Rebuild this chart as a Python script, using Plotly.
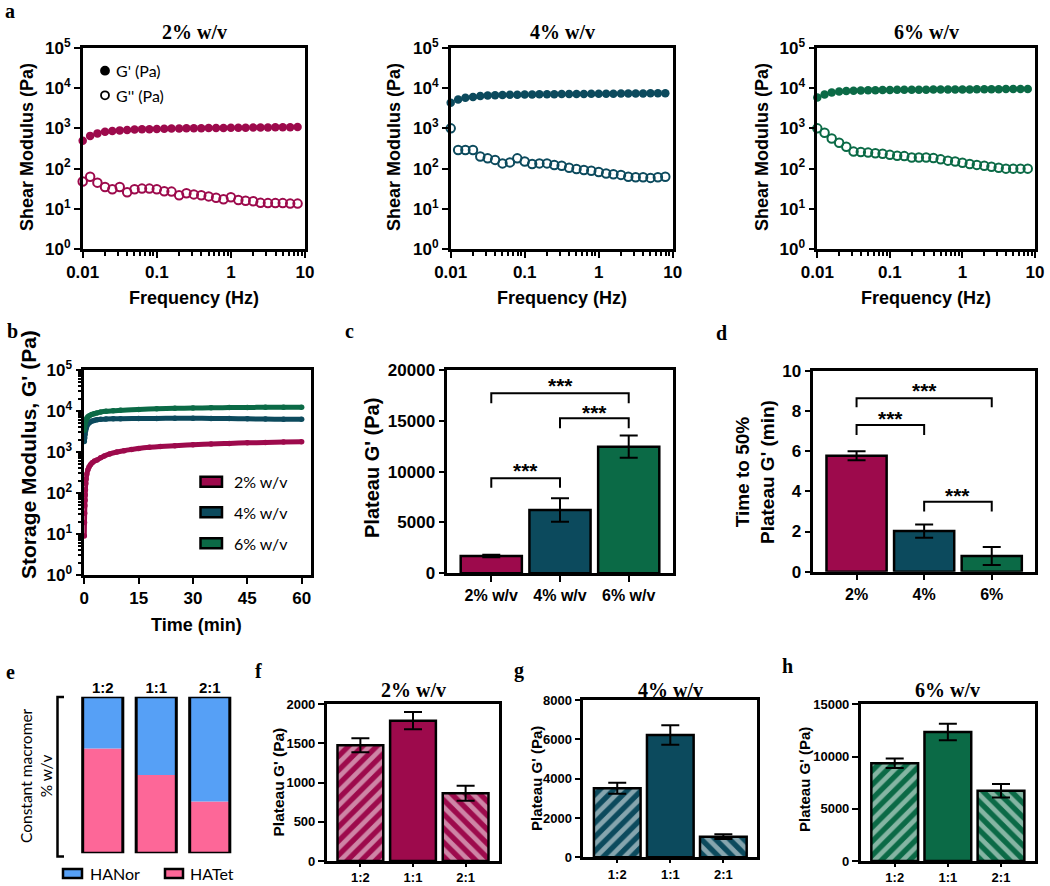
import plotly.graph_objects as go

W, H = 1050, 886
SANS = "Liberation Sans"
SERIF = "Liberation Serif"
REG = "Lato"

# ---------------- data ----------------
freq = [0.01, 0.0126, 0.0158, 0.02, 0.0251, 0.0316, 0.0398, 0.0501, 0.0631, 0.0794,
        0.1, 0.126, 0.158, 0.2, 0.251, 0.316, 0.398, 0.501, 0.631, 0.794,
        1.0, 1.26, 1.58, 2.0, 2.51, 3.16, 3.98, 5.01, 6.31, 7.94]

gp_2 = [490, 650, 750, 820, 860, 890, 910, 930, 945, 955, 965, 975, 985, 990, 1000,
        1005, 1010, 1015, 1020, 1025, 1030, 1035, 1040, 1045, 1050, 1055, 1060, 1065, 1070, 1075]
gpp_2 = [48, 63, 45, 35, 31, 35, 26, 31, 32, 32, 31, 27.5, 27, 22, 24.5, 23, 22, 20.5, 19, 17.4,
         19.5, 16.7, 16, 15.5, 14.2, 14, 14, 14, 13.6, 13.6]

gp_4 = [4300, 5200, 5700, 6000, 6300, 6500, 6600, 6700, 6800, 6850, 6900, 6950, 7000, 7000, 7050,
        7100, 7100, 7150, 7150, 7200, 7200, 7250, 7250, 7300, 7300, 7350, 7350, 7400, 7400, 7450]
gpp_4 = [1000, 290, 290, 290, 200, 180, 165, 135, 143, 180, 150, 130, 135, 135, 123, 118, 105, 98,
         93, 89, 83, 76, 73, 70, 63, 61, 61, 59, 61, 63]

gp_6 = [5800, 6900, 7700, 8200, 8400, 8600, 8700, 8800, 8850, 8900, 8950, 9000, 9000, 9050, 9100,
        9100, 9150, 9150, 9200, 9200, 9250, 9250, 9300, 9300, 9350, 9350, 9400, 9400, 9450, 9500]
gpp_6 = [1000, 780, 560, 440, 350, 265, 260, 250, 240, 235, 220, 210, 205, 190, 190, 190, 183, 170,
         158, 150, 140, 130, 124, 118, 112, 105, 100, 100, 100, 100]

# time sweep (panel b)
t_2 = [0, 0.05, 0.1, 0.15, 0.2, 0.25, 0.3, 0.4, 0.5, 0.7, 1.0, 1.3, 1.7, 2.2, 2.8, 3.5, 4.5, 5.5,
       7, 9, 11, 13, 15, 18, 21, 25, 30, 35, 40, 45, 50, 55, 60]
sg_2 = [9, 19, 32, 49, 67, 90, 120, 170, 220, 290, 370, 430, 490, 550, 600, 640, 720, 800,
        900, 1000, 1080, 1150, 1220, 1300, 1360, 1420, 1500, 1570, 1620, 1670, 1710, 1750, 1780]
t_46 = [0, 0.1, 0.2, 0.35, 0.5, 0.7, 1.0, 1.4, 2.0, 2.7, 3.5, 4.5, 6, 8, 10, 15, 20, 25, 30,
        35, 40, 45, 50, 55, 60]
sg_4 = [1800, 2200, 2700, 3300, 3800, 4300, 4800, 5200, 5600, 5900, 6100, 6250, 6350, 6450, 6500,
        6550, 6600, 6650, 6650, 6600, 6550, 6450, 6350, 6300, 6250]
sg_6 = [3400, 4200, 4900, 5600, 6100, 6700, 7200, 7700, 8200, 8600, 9000, 9400, 9800, 10100, 10400,
        10900, 11300, 11600, 11800, 12000, 12100, 12200, 12300, 12300, 12400]

conc = ["2% w/v", "4% w/v", "6% w/v"]
conc_short = ["2%", "4%", "6%"]
plateau = [1700, 6230, 12460]
plateau_err = [130, 1150, 1100]
t50 = [5.77, 2.02, 0.78]
t50_err = [0.22, 0.33, 0.45]

# significance brackets: (i, j, bracket top, leg bottom, star level)
sig_c = [(0, 1, 9345, 8420, 10590), (1, 2, 15250, 14260, 16360), (0, 2, 17710, 16720, 18920)]
sig_d = [(0, 1, 7.30, 6.80, 7.88), (1, 2, 3.48, 2.99, 4.03), (0, 2, 8.63, 8.18, 9.24)]

ratios = ["1:2", "1:1", "2:1"]
hatet_frac = [0.67, 0.50, 0.33]
hanor_frac = [0.33, 0.50, 0.67]

ratio_2 = [1477, 1791, 864]
ratio_2_err = [90, 110, 95]
ratio_4 = [3509, 6220, 1048]
ratio_4_err = [280, 500, 120]
ratio_6 = [9352, 12349, 6730]
ratio_6_err = [450, 800, 650]

C2, C4, C6 = "#9d0a4c", "#0c4a5d", "#0b6a46"
NOR, TET = "#56a0f6", "#fd6798"

# ---------------- helpers ----------------
def px(x):
    return x / W

def py(y):
    return 1 - y / H

def dom(x0, x1, y0, y1):
    return [px(x0), px(x1)], [py(y1), py(y0)]

def axis_style(size=17):
    return dict(showline=True, linecolor="black", linewidth=2.5, mirror=True,
                ticks="outside", ticklen=6, tickwidth=2, tickcolor="black",
                showgrid=False, zeroline=False, automargin=False,
                tickfont=dict(family=SANS, size=size, color="black", weight="bold"))

fig = go.Figure()
layout = {}
annotations = []
shapes = []

def ann(text, x, y, size, family=SANS, bold=True, angle=0, xanchor="center", **kw):
    annotations.append(dict(text=text, x=px(x), y=py(y), xref="paper", yref="paper",
                            showarrow=False, textangle=angle, xanchor=xanchor, yanchor="middle",
                            font=dict(family=family, size=size, color="black",
                                      weight="bold" if bold else "normal"), **kw))

boxes = {
    1: (82.7, 305, 47.7, 249.3),
    2: (450.7, 672.7, 47.7, 249.3),
    3: (817.3, 1035, 47.7, 249.3),
    4: (84.3, 310.7, 370, 575),
    5: (447.3, 672.7, 370, 573.3),
    6: (813.3, 1035, 370.7, 571.7),
    7: (76, 236.5, 696.7, 853.3),
    8: (326.7, 499.3, 704.3, 861),
    9: (583.3, 757.3, 700, 857.3),
    10: (860.7, 1035, 704.3, 861),
}

def axname(i):
    return ("xaxis", "yaxis") if i == 1 else (f"xaxis{i}", f"yaxis{i}")

def ref(i):
    return ("x", "y") if i == 1 else (f"x{i}", f"y{i}")

dec_vals = [1, 10, 100, 1000, 10000, 100000]
dec_text = [f"10<sup>{k}</sup>" for k in range(6)]
minor_f = [m * 10 ** e for e in (-2, -1, 0) for m in range(2, 10)]
minor_y = [m * 10 ** e for e in range(0, 5) for m in range(2, 10)]

# ---------------- panel a ----------------
for i, (gp, gpp, col) in zip((1, 2, 3), ((gp_2, gpp_2, C2), (gp_4, gpp_4, C4), (gp_6, gpp_6, C6))):
    xr, yr = ref(i)
    fig.add_trace(go.Scatter(x=freq, y=gp, mode="markers", xaxis=xr, yaxis=yr, cliponaxis=False,
                             marker=dict(symbol="circle", size=8.5, color=col), showlegend=False))
    fig.add_trace(go.Scatter(x=freq, y=gpp, mode="markers", xaxis=xr, yaxis=yr, cliponaxis=False,
                             marker=dict(symbol="circle-open", size=8.5, color=col,
                                         line=dict(width=2, color=col)), showlegend=False))
    xn, yn = axname(i)
    x0, x1, y0, y1 = boxes[i]
    xd, yd = dom(x0, x1, y0, y1)
    xa = axis_style(17)
    xa.update(type="log", range=[-2, 1], domain=xd, anchor=yr,
              tickvals=[0.01, 0.1, 1, 10], ticktext=["0.01", "0.1", "1", "10"],
              minor=dict(tickmode="array", tickvals=minor_f, ticks="outside", ticklen=4,
                         tickwidth=1.5, tickcolor="black", showgrid=False))
    ya = axis_style(17)
    ya.update(type="log", range=[0, 5], domain=yd, anchor=xr, tickvals=dec_vals, ticktext=dec_text)
    layout[xn] = xa
    layout[yn] = ya

for title, xc in zip(conc, (194, 562, 926)):
    ann(title, xc, 32, 20, family=SERIF)
    ann("Frequency (Hz)", xc, 298, 18)
for xc in (27, 394, 762):
    ann("Shear Modulus (Pa)", xc, 147, 18, angle=-90)

# panel a legend
for cy, filled, label in ((70.7, True, "G' (Pa)"), (95.3, False, "G'' (Pa)")):
    r = 4
    shapes.append(dict(type="circle", xref="paper", yref="paper",
                       x0=px(105 - r), x1=px(105 + r), y0=py(cy + r), y1=py(cy - r),
                       fillcolor="black" if filled else "white",
                       line=dict(color="black", width=1.8)))
    ann(label, 114, cy, 16, family=REG, bold=False, xanchor="left")

# ---------------- panel b ----------------
xr, yr = ref(4)
for t, g, col in ((t_2, sg_2, C2), (t_46, sg_4, C4), (t_46, sg_6, C6)):
    fig.add_trace(go.Scatter(x=t, y=g, mode="lines+markers", xaxis=xr, yaxis=yr, cliponaxis=False,
                             line=dict(color=col, width=5, shape="spline"),
                             marker=dict(size=5.5, color=col), showlegend=False))
x0, x1, y0, y1 = boxes[4]
xd, yd = dom(x0, x1, y0, y1)
xa = axis_style(17)
xa.update(range=[0, 62.5], domain=xd, anchor=yr, tickvals=[0, 15, 30, 45, 60])
ya = axis_style(17)
ya.update(type="log", range=[0, 5], domain=yd, anchor=xr, tickvals=dec_vals, ticktext=dec_text,
          minor=dict(tickmode="array", tickvals=minor_y, ticks="outside", ticklen=3.5,
                     tickwidth=1.5, tickcolor="black", showgrid=False))
layout["xaxis4"], layout["yaxis4"] = xa, ya
ann("Time (min)", 196, 625, 18)
ann("Storage Modulus, G' (Pa)", 28, 455, 21, angle=-90)
for cy, col, label in zip((481.7, 512.3, 543.3), (C2, C4, C6), conc):
    shapes.append(dict(type="rect", xref="paper", yref="paper",
                       x0=px(200.5), x1=px(222), y0=py(cy + 5), y1=py(cy - 5),
                       fillcolor=col, line=dict(color="black", width=2.5)))
    ann(label, 232, cy, 16, family=REG, bold=False, xanchor="left")

# ---------------- bar panels helper ----------------
def bar_panel(i, cats, vals, errs, colors, rng, dtick, ytick_size, xtick_size, width,
              pattern=None, xticklen=6):
    xr, yr = ref(i)
    idx = list(range(len(cats)))
    marker = dict(color=colors, line=dict(color="black", width=2.5))
    if pattern is not None:
        marker["pattern"] = dict(shape=pattern, fgcolor="white", fillmode="overlay",
                                 size=10, solidity=0.47)
    fig.add_trace(go.Bar(x=idx, y=vals, width=width, marker=marker, xaxis=xr, yaxis=yr,
                         cliponaxis=False, showlegend=False,
                         error_y=dict(type="data", array=errs, color="black",
                                      thickness=2, width=9)))
    x0, x1, y0, y1 = boxes[i]
    xd, yd = dom(x0, x1, y0, y1)
    xn, yn = axname(i)
    xa = axis_style(xtick_size)
    xa.update(range=[-0.64, len(cats) - 0.36], domain=xd, anchor=yr, tickvals=idx, ticktext=cats,
              ticklen=xticklen)
    ya = axis_style(ytick_size)
    ya.update(range=rng, domain=yd, anchor=xr, dtick=dtick, tickformat="d")
    layout[xn], layout[yn] = xa, ya

def brackets(i, sig):
    xr, yr = ref(i)
    for a, b, top, leg, star in sig:
        shapes.append(dict(type="path", xref=xr, yref=yr,
                           path=f"M {a},{leg} L {a},{top} L {b},{top} L {b},{leg}",
                           line=dict(color="black", width=2)))
        annotations.append(dict(text="***", x=(a + b) / 2, y=star, xref=xr, yref=yr,
                                showarrow=False, yshift=-5,
                                font=dict(family=SANS, size=21, color="black", weight="bold")))

# panel c
bar_panel(5, conc, plateau, plateau_err, [C2, C4, C6], [0, 20000], 5000, 17, 16, 0.89)
brackets(5, sig_c)
ann("Plateau G' (Pa)", 372, 468, 20, angle=-90)

# panel d
bar_panel(6, conc_short, t50, t50_err, [C2, C4, C6], [0, 10], 2, 17, 16, 0.89)
brackets(6, sig_d)
ann("Time to 50%<br>Plateau G' (min)", 755, 472, 19, angle=-90)

# panel f, g, h
pat = ["/", "", "\\"]
bar_panel(8, ratios, ratio_2, ratio_2_err, C2, [0, 2000], 500, 13, 13, 0.87, pat, 3)
bar_panel(9, ratios, ratio_4, ratio_4_err, C4, [0, 8000], 2000, 13, 13, 0.88, pat, 3)
bar_panel(10, ratios, ratio_6, ratio_6_err, C6, [0, 15000], 5000, 13, 13, 0.88, pat, 3)
for title, xc in zip(conc, (413, 670, 947)):
    ann(title, xc, 690, 20, family=SERIF)
ann("Plateau G' (Pa)", 277.5, 782, 15.5, angle=-90)
ann("Plateau G' (Pa)", 536, 779, 15, angle=-90)
ann("Plateau G' (Pa)", 804, 780, 15, angle=-90)

# ---------------- panel e ----------------
xr, yr = ref(7)
idx = list(range(len(ratios)))
totals = [a + b for a, b in zip(hatet_frac, hanor_frac)]
fig.add_trace(go.Bar(x=idx, y=hatet_frac, width=0.75, marker=dict(color=TET, line=dict(width=0)),
                     xaxis=xr, yaxis=yr, showlegend=False, cliponaxis=False))
fig.add_trace(go.Bar(x=idx, y=hanor_frac, base=hatet_frac, width=0.75,
                     marker=dict(color=NOR, line=dict(width=0)),
                     xaxis=xr, yaxis=yr, showlegend=False, cliponaxis=False))
fig.add_trace(go.Bar(x=idx, y=totals, width=0.75,
                     marker=dict(color="rgba(0,0,0,0)", line=dict(color="black", width=3)),
                     xaxis=xr, yaxis=yr, showlegend=False, cliponaxis=False))
x0, x1, y0, y1 = boxes[7]
xd, yd = dom(x0, x1, y0, y1)
layout["xaxis7"] = dict(domain=xd, anchor=yr, range=[-0.5, 2.5], side="top", tickvals=idx,
                        ticktext=ratios, showline=False, showgrid=False, zeroline=False, ticks="",
                        automargin=False,
                        tickfont=dict(family=SANS, size=15, color="black", weight="bold"))
layout["yaxis7"] = dict(domain=yd, anchor=xr, range=[0, 1], visible=False, automargin=False)
shapes.append(dict(type="path", xref="paper", yref="paper",
                   path=f"M {px(64)},{py(697)} L {px(57.5)},{py(697)} L {px(57.5)},{py(856.5)} L {px(64)},{py(856.5)}",
                   line=dict(color="black", width=2.5)))
ann("Constant macromer<br>% w/v", 36, 776, 15.5, family=REG, bold=False, angle=-90)
for bx0, bx1, tx, col, label in ((63, 82, 88, NOR, "HANor"), (165, 183, 188, TET, "HATet")):
    shapes.append(dict(type="rect", xref="paper", yref="paper",
                       x0=px(bx0), x1=px(bx1), y0=py(878), y1=py(869),
                       fillcolor=col, line=dict(color="black", width=2.5)))
    ann(label, tx, 873.5, 16, family=REG, bold=False, xanchor="left")

# ---------------- panel letters ----------------
for letter, x, y in (("a", 10, 11), ("b", 12, 331), ("c", 349, 331), ("d", 721, 333),
                     ("e", 10, 672), ("f", 258, 671), ("g", 519, 670), ("h", 787, 666)):
    ann(letter, x, y, 20, family=SERIF)

fig.update_layout(
    template="none",
    width=W, height=H, autosize=False,
    margin=dict(l=0, r=0, t=0, b=0, pad=0),
    paper_bgcolor="white", plot_bgcolor="white",
    barmode="overlay", showlegend=False,
    font=dict(family=SANS, color="black"),
    annotations=annotations, shapes=shapes,
    **layout,
)

fig.write_html("out.html", config={"displayModeBar": False},
               post_script="document.body.style.margin='0px';document.body.style.overflow='hidden';")
